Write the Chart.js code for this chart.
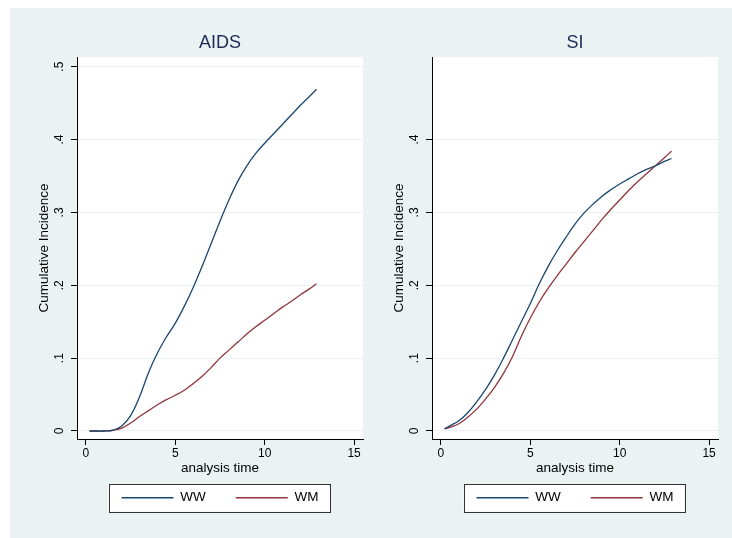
<!DOCTYPE html>
<html>
<head>
<meta charset="utf-8">
<script src="https://cdn.jsdelivr.net/npm/chart.js@4/dist/chart.umd.min.js"></script>
<style>
  html, body { margin: 0; background: #fff; overflow: hidden; }
  .graphRegion { position: fixed; left: 10px; top: 8px; right: 0; bottom: 0; background: #eaf2f3; }
  canvas { position: absolute; top: 8px; }
  #aidsChart { left: 10px; }
  #siChart { left: 365px; }
</style>
</head>
<body>
<div class="graphRegion"></div>
<canvas id="aidsChart" width="355" height="530"></canvas>
<canvas id="siChart" width="367" height="530"></canvas>
<script>
// analysis time (years) and cumulative incidence
const times = [0.2, 0.5, 1, 1.5, 2, 2.5, 3, 3.5, 4, 4.5, 5, 5.5, 6, 6.5, 7, 7.5, 8, 8.5, 9, 9.5, 10, 10.5, 11, 11.5, 12, 12.5, 12.9];

const aidsWW = [0, 0, 0, 0.001, 0.007, 0.021, 0.047, 0.08, 0.107, 0.129, 0.148, 0.171, 0.197, 0.226, 0.257, 0.288, 0.317, 0.343, 0.364, 0.381, 0.395, 0.408, 0.421, 0.434, 0.447, 0.459, 0.469];
const aidsWM = [0, 0, 0, 0.001, 0.004, 0.011, 0.02, 0.028, 0.036, 0.043, 0.049, 0.056, 0.065, 0.075, 0.087, 0.1, 0.111, 0.122, 0.133, 0.143, 0.152, 0.161, 0.17, 0.178, 0.187, 0.195, 0.202];

const siWW = [0.003, 0.007, 0.014, 0.025, 0.04, 0.057, 0.077, 0.1, 0.125, 0.15, 0.175, 0.202, 0.226, 0.247, 0.266, 0.284, 0.299, 0.311, 0.322, 0.331, 0.339, 0.346, 0.353, 0.359, 0.364, 0.37, 0.374];
const siWM = [0.003, 0.005, 0.01, 0.019, 0.03, 0.044, 0.06, 0.079, 0.102, 0.13, 0.155, 0.177, 0.196, 0.213, 0.229, 0.245, 0.26, 0.275, 0.29, 0.304, 0.317, 0.33, 0.342, 0.353, 0.364, 0.375, 0.384];

const xTicks = [0, 5, 10, 15];
const aidsYTicks = [0, 0.1, 0.2, 0.3, 0.4, 0.5];
const siYTicks = [0, 0.1, 0.2, 0.3, 0.4];
const yTickLabels = ['0', '.1', '.2', '.3', '.4', '.5'];

const navy = '#1a476f';
const maroon = '#90353b';
const bgColor = '#eaf2f3';

Chart.defaults.font.family = '"Liberation Sans", Arial, sans-serif';
Chart.defaults.color = '#000';

// white plot region + boxed legend like Stata
const panelFrame = {
    id: 'panelFrame',
    afterLayout(chart) {
        const lg = chart.legend;
        const h = lg.bottom - lg.top;
        lg.top = chart.chartArea.bottom + 22;
        lg.bottom = lg.top + h;
    },
    beforeDraw(chart) {
        const ctx = chart.ctx;
        const a = chart.chartArea;
        ctx.save();
        ctx.fillStyle = '#fff';
        ctx.fillRect(a.left, a.top, a.right - a.left, a.bottom - a.top);

        const boxes = chart.legend.legendHitBoxes;
        const l = Math.min(...boxes.map(b => b.left)) - 13;
        const r = Math.max(...boxes.map(b => b.left + b.width)) + 11;
        const t = Math.min(...boxes.map(b => b.top)) - 7;
        const btm = Math.max(...boxes.map(b => b.top + b.height)) + 7;
        ctx.fillRect(l, t, r - l, btm - t);
        ctx.strokeStyle = '#333';
        ctx.lineWidth = 1;
        ctx.strokeRect(Math.round(l) + 0.5, Math.round(t) + 0.5, Math.round(r - l), Math.round(btm - t));
        ctx.restore();
    }
};

function panel(id, title, ww, wm, yTicks, padRight) {
    const ctx = document.getElementById(id).getContext('2d');
    new Chart(ctx, {
        type: 'line',
        data: {
            datasets: [{
                label: 'WW',
                data: times.map((t, i) => ({x: t, y: ww[i]})),
                borderColor: navy,
                backgroundColor: navy,
                borderWidth: 1.3,
                pointRadius: 0,
                tension: 0.4,
                fill: false
            }, {
                label: 'WM',
                data: times.map((t, i) => ({x: t, y: wm[i]})),
                borderColor: maroon,
                backgroundColor: maroon,
                borderWidth: 1.3,
                pointRadius: 0,
                tension: 0.4,
                fill: false
            }]
        },
        options: {
            responsive: false,
            animation: false,
            layout: {padding: {left: 26, right: padRight, top: 0, bottom: 8.5}},
            scales: {
                x: {
                    type: 'linear',
                    min: -0.5,
                    max: 15.5,
                    afterBuildTicks: s => { s.ticks = xTicks.map(v => ({value: v})); },
                    afterFit: s => { s.height = 37; },
                    ticks: {autoSkip: false, padding: 1, font: {size: 12}, color: '#000', maxRotation: 0},
                    grid: {drawOnChartArea: false, tickColor: '#000', tickLength: 6},
                    border: {color: '#000', width: 1},
                    title: {display: true, text: 'analysis time', font: {size: 13.5}, color: '#000', padding: 0}
                },
                y: {
                    min: -0.011,
                    max: 0.5133,
                    afterBuildTicks: s => { s.ticks = yTicks.map(v => ({value: v})); },
                    afterFit: s => { s.width = 41; },
                    ticks: {
                        autoSkip: false,
                        minRotation: 90,
                        maxRotation: 90,
                        crossAlign: 'center',
                        padding: 6,
                        font: {size: 12},
                        color: '#000',
                        callback: (v, i) => yTickLabels[i]
                    },
                    grid: {color: bgColor, lineWidth: 1, tickColor: '#000', tickLength: 6},
                    border: {color: '#000', width: 1},
                    title: {display: true, text: 'Cumulative Incidence', font: {size: 13.5}, color: '#000', padding: 0}
                }
            },
            plugins: {
                title: {
                    display: true,
                    text: title,
                    fullSize: false,
                    color: '#1e2b57',
                    font: {size: 18, weight: 'normal'},
                    padding: {top: 24.5, bottom: 2.9}
                },
                legend: {
                    position: 'bottom',
                    fullSize: false,
                    labels: {
                        usePointStyle: true,
                        pointStyle: 'line',
                        pointStyleWidth: 52,
                        padding: 30,
                        color: '#000',
                        font: {size: 13.5}
                    }
                },
                tooltip: {enabled: false}
            }
        },
        plugins: [panelFrame]
    });
}

panel('aidsChart', 'AIDS', aidsWW, aidsWM, aidsYTicks, 2);
panel('siChart', 'SI', siWW, siWM, siYTicks, 14);
</script>
</body>
</html>
